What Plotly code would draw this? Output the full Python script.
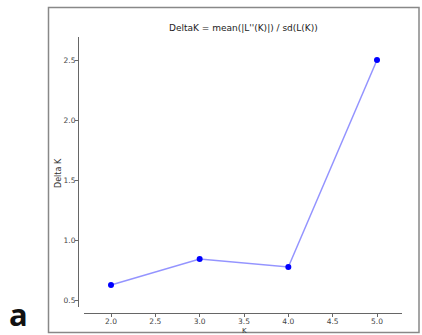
import plotly.graph_objects as go

K = [2, 3, 4, 5]
delta_k = [0.625, 0.842, 0.775, 2.5]
x_ticks = [2.0, 2.5, 3.0, 3.5, 4.0, 4.5, 5.0]
y_ticks = [0.5, 1.0, 1.5, 2.0, 2.5]

W, H = 422, 335
L, R, T, B = 78, 20, 37, 22
pw, ph = W - L - R, H - T - B

def px(x):
    return (x - L) / pw

def py(y):
    return (H - B - y) / ph

fig = go.Figure()
fig.add_trace(go.Scatter(
    x=K, y=delta_k, mode="lines+markers",
    line=dict(color="rgba(60,60,255,0.55)", width=1.5),
    marker=dict(color="#0000ff", size=6),
    showlegend=False, hoverinfo="skip"))

tickfont = dict(family="DejaVu Sans", size=7.5, color="#444")
fig.update_layout(
    width=W, height=H,
    margin=dict(l=L, r=R, t=T, b=B, autoexpand=False),
    paper_bgcolor="white", plot_bgcolor="white",
    font=dict(family="DejaVu Sans", color="#333"),
    xaxis=dict(domain=[6 / pw, 1], range=[1.6955, 5.282], anchor="free", position=0,
               automargin=False,
               tickvals=x_ticks, ticktext=[f"{v:.1f}" for v in x_ticks],
               showgrid=False, zeroline=False, showline=True, linecolor="#666", linewidth=1,
               ticks="outside", ticklen=3, tickcolor="#666", tickfont=tickfont,
               ticklabelstandoff=-2),
    yaxis=dict(domain=[6 / ph, 1], range=[0.4417, 2.6917], anchor="free", position=0,
               automargin=False,
               tickvals=y_ticks, ticktext=[f"{v:.1f}" for v in y_ticks],
               showgrid=False, zeroline=False, showline=True, linecolor="#666", linewidth=1,
               ticks="outside", ticklen=3, tickcolor="#666", tickfont=tickfont,
               ticklabelstandoff=-2),
)

fig.add_shape(type="rect", xref="paper", yref="paper",
              x0=px(48.5), x1=px(419), y0=py(332.5), y1=py(7.5),
              line=dict(color="#888", width=1.5), fillcolor="rgba(0,0,0,0)")

def ann(text, x, y, size, angle=0, family="DejaVu Sans", color="#333"):
    fig.add_annotation(text=text, xref="paper", yref="paper", textangle=angle,
                       x=px(x), y=py(y), xanchor="center", yanchor="middle",
                       showarrow=False, font=dict(family=family, size=size, color=color))

ann("DeltaK = mean(|L''(K)|) / sd(L(K))", 243, 28, 9, color="#222")
ann("Delta K", 58, 173, 8, angle=-90)
ann("K", 244, 330.5, 7)
ann("<b>a</b>", 18, 314, 31, family="Open Sans", color="#111")

fig.write_html("out.html", config={"displayModeBar": False},
               post_script="document.body.style.margin='0';document.body.style.overflow='hidden';")
